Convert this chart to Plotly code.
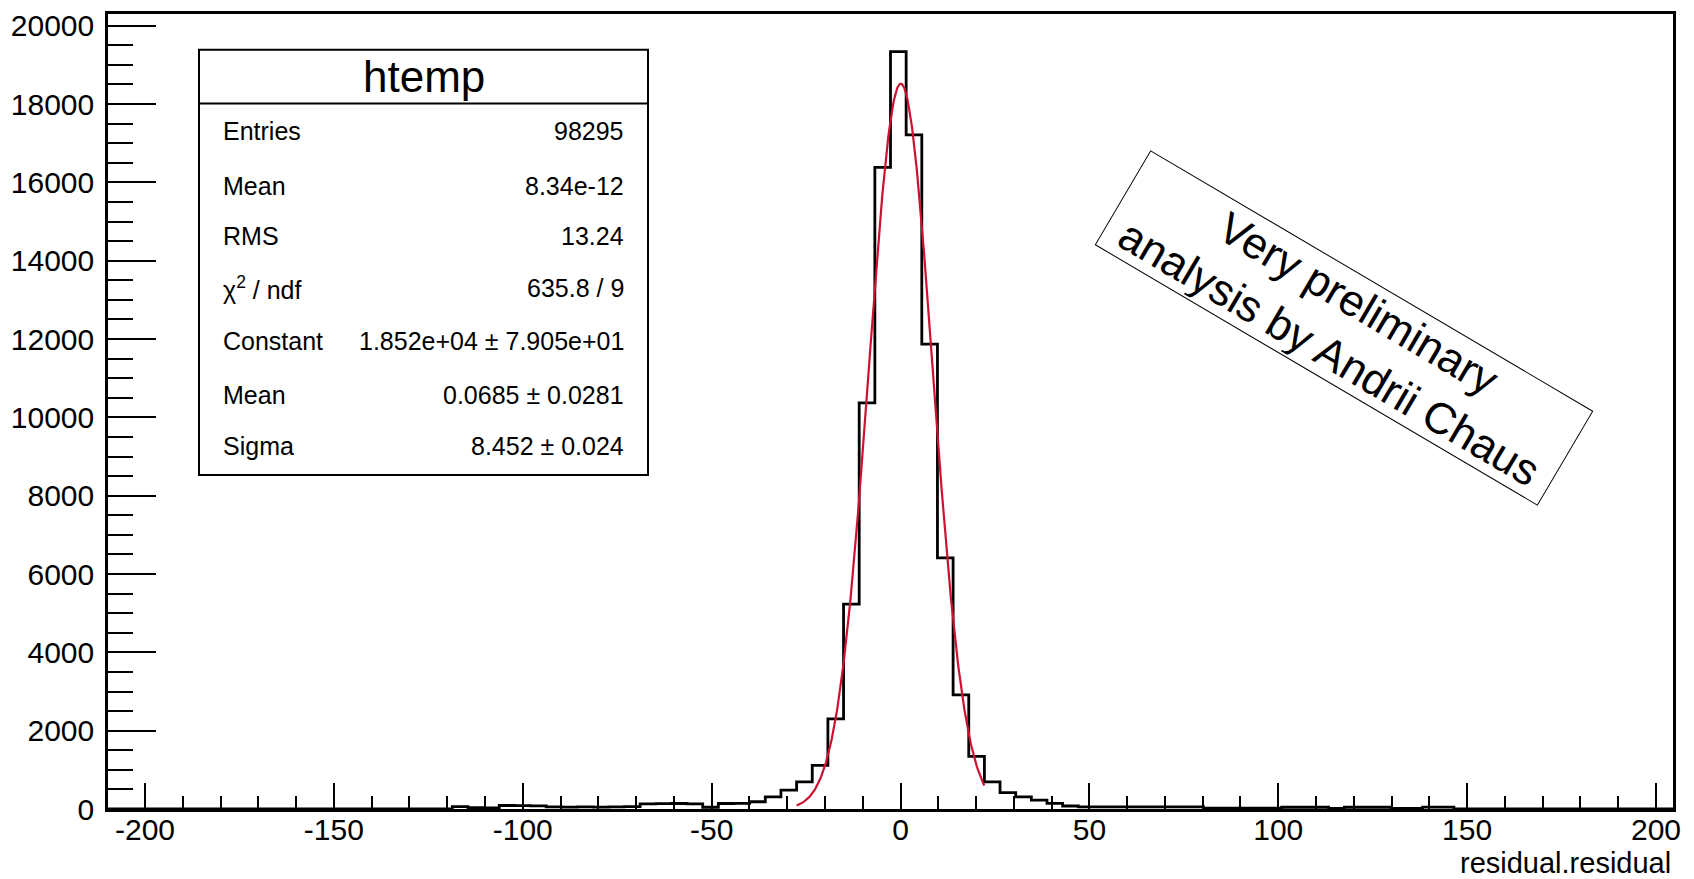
import math
import plotly.graph_objects as go

# ---- histogram "htemp" of residual.residual (100 bins) ----
x_min, x_max = -209.8, 204.5
n_bins = 100
counts = [
    0, 0, 0, 0, 0, 0, 0, 0, 0, 0,
    0, 0, 0, 0, 0, 0, 0, 0, 0, 0,
    0, 0, 60, 35, 30, 90, 85, 80, 55, 50,
    55, 50, 55, 60, 130, 135, 140, 130, 45, 140,
    145, 185, 312, 482, 693, 1115, 2299, 5230, 10368, 16383,
    19341, 17212, 11871, 6413, 2915, 1343, 693, 420, 312, 228,
    144, 76, 55, 55, 55, 55, 55, 55, 55, 55,
    20, 20, 20, 20, 20, 45, 45, 45, 15, 45,
    45, 45, 15, 15, 50, 50, 0, 0, 0, 0,
    0, 0, 0, 0, 0, 0, 0, 0, 0, 0,
]

# ---- gaussian fit results ----
fit_constant = 1.852e4
fit_mean = 0.0685
fit_sigma = 8.452
fit_lo, fit_hi = -27.5, 22.2

stats_labels = ["Entries", "Mean", "RMS", "χ<sup>2</sup> / ndf", "Constant", "Mean", "Sigma"]
stats_values = ["98295", "8.34e-12", "13.24", "635.8 / 9",
                "1.852e+04 ± 7.905e+01", "0.0685 ± 0.0281", "8.452 ± 0.024"]

y_ticks = [0, 2000, 4000, 6000, 8000, 10000, 12000, 14000, 16000, 18000, 20000]
x_ticks = [-200, -150, -100, -50, 0, 50, 100, 150, 200]
y_top = 20300

FONT = "Liberation Sans, Arial, Helvetica, sans-serif"

# bin edges -> step outline
width = (x_max - x_min) / n_bins
edges = [x_min + k * width for k in range(n_bins + 1)]
step_x = edges
step_y = counts + [counts[-1]]

# fit curve over the fit range
n_fit = 300
fx_pts = [fit_lo + (fit_hi - fit_lo) * i / (n_fit - 1) for i in range(n_fit)]
fy_pts = [fit_constant * math.exp(-0.5 * ((v - fit_mean) / fit_sigma) ** 2) for v in fx_pts]

W, H = 1694, 879
PL, PR, PT, PB = 108, 1673, 9, 809


def px_x(px):
    return (px - PL) / (PR - PL)


def px_y(py):
    return (PB - py) / (PB - PT)


fig = go.Figure()
fig.add_trace(go.Scatter(x=step_x, y=step_y, mode="lines", line_shape="hv",
                         line=dict(color="black", width=2.8), hoverinfo="skip"))
fig.add_trace(go.Scatter(x=fx_pts, y=fy_pts, mode="lines",
                         line=dict(color="#cc1230", width=2.2), hoverinfo="skip"))

# stats box
box_l, box_r, box_t, box_b, box_sep = 199, 648, 45, 473, 99
shapes = [
    dict(type="rect", xref="paper", yref="paper",
         x0=px_x(box_l), x1=px_x(box_r), y0=px_y(box_b), y1=px_y(box_t),
         line=dict(color="black", width=2), fillcolor="white", layer="above"),
    dict(type="line", xref="paper", yref="paper",
         x0=px_x(box_l), x1=px_x(box_r), y0=px_y(box_sep), y1=px_y(box_sep),
         line=dict(color="black", width=2), layer="above"),
]

annotations = [
    dict(text="htemp", xref="paper", yref="paper", x=px_x((box_l + box_r) / 2), y=px_y(72),
         xanchor="center", yanchor="middle", showarrow=False,
         font=dict(family=FONT, size=44, color="black")),
]
row_y = [127, 182, 232, 285, 338, 392, 444]
for lab, val, ry in zip(stats_labels, stats_values, row_y):
    annotations.append(dict(text=lab, xref="paper", yref="paper", x=px_x(221), y=px_y(ry),
                            xanchor="left", yanchor="middle", showarrow=False,
                            font=dict(family=FONT, size=25, color="black")))
    annotations.append(dict(text=val, xref="paper", yref="paper", x=px_x(626), y=px_y(ry),
                            xanchor="right", yanchor="middle", showarrow=False,
                            font=dict(family=FONT, size=25, color="black")))

# axis title
annotations.append(dict(text="residual.residual", xref="paper", yref="paper",
                        x=px_x(1673), y=px_y(863), xanchor="right", yanchor="middle",
                        showarrow=False, font=dict(family=FONT, size=29, color="black")))

# rotated stamp
annotations.append(dict(text="Very preliminary<br>analysis by Andrii Chaus",
                        xref="paper", yref="paper", x=px_x(1344), y=px_y(325),
                        xanchor="center", yanchor="middle", showarrow=False,
                        textangle=30.5, align="center",
                        width=508, height=104, borderpad=2, borderwidth=1,
                        bordercolor="black", bgcolor="white",
                        font=dict(family=FONT, size=44, color="black")))

fig.update_layout(
    width=W, height=H,
    margin=dict(l=PL, r=W - PR, t=PT, b=H - PB, pad=0),
    paper_bgcolor="white", plot_bgcolor="white",
    showlegend=False,
    shapes=shapes, annotations=annotations,
    font=dict(family=FONT, color="black"),
)
fig.update_xaxes(
    range=[x_min, x_max], tickmode="array", tickvals=x_ticks,
    ticktext=[str(v) for v in x_ticks],
    ticks="inside", ticklen=26, tickwidth=2, tickcolor="black",
    minor=dict(dtick=10, tick0=0, ticks="inside", ticklen=13, tickwidth=2, tickcolor="black"),
    showline=True, linecolor="black", linewidth=2.5, mirror=True,
    showgrid=False, zeroline=False, ticklabelstandoff=-8,
    tickfont=dict(family=FONT, size=30, color="black"),
)
fig.update_yaxes(
    range=[0, y_top], tickmode="array", tickvals=y_ticks,
    ticktext=[str(v) for v in y_ticks],
    ticks="inside", ticklen=48, tickwidth=2, tickcolor="black",
    minor=dict(dtick=500, tick0=0, ticks="inside", ticklen=25, tickwidth=2, tickcolor="black"),
    showline=True, linecolor="black", linewidth=2.5, mirror=True,
    showgrid=False, zeroline=False, ticklabelstandoff=5,
    tickfont=dict(family=FONT, size=30, color="black"),
)

fig.write_html("out.html")
